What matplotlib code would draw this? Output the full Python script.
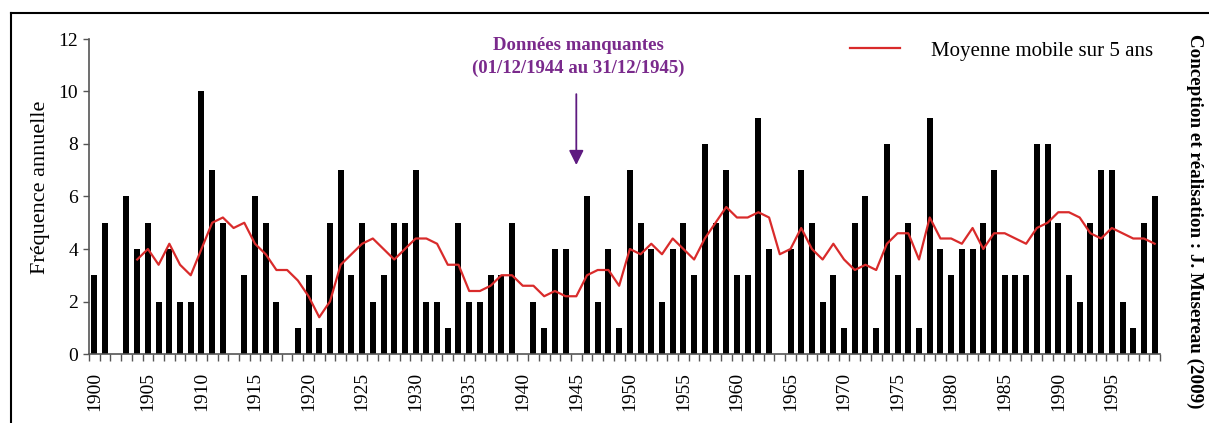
import matplotlib
matplotlib.use('Agg')
import matplotlib.pyplot as plt
import numpy as np
from matplotlib.lines import Line2D

plt.rcParams['font.family'] = ['Liberation Serif', 'DejaVu Serif']

# annual frequency, 1900-1999 (1945: missing data)
years = list(range(1900, 2000))
freq = [3, 5, 0, 6, 4, 5, 2, 4, 2, 2,
        10, 7, 5, 0, 3, 6, 5, 2, 0, 1,
        3, 1, 5, 7, 3, 5, 2, 3, 5, 5,
        7, 2, 2, 1, 5, 2, 2, 3, 3, 5,
        0, 2, 1, 4, 4, 0, 6, 2, 4, 1,
        7, 5, 4, 2, 4, 5, 3, 8, 5, 7,
        3, 3, 9, 4, 0, 4, 7, 5, 2, 3,
        1, 5, 6, 1, 8, 3, 5, 1, 9, 4,
        3, 4, 4, 5, 7, 3, 3, 3, 8, 8,
        5, 3, 2, 5, 7, 7, 2, 1, 5, 6]

# 5-year moving average, 1904-1999
ma_years = list(range(1904, 2000))
ma = [3.6, 4.0, 3.4, 4.2, 3.4, 3.0,
      4.0, 5.0, 5.2, 4.8, 5.0, 4.2, 3.8, 3.2, 3.2, 2.8,
      2.2, 1.4, 2.0, 3.4, 3.8, 4.2, 4.4, 4.0, 3.6, 4.0,
      4.4, 4.4, 4.2, 3.4, 3.4, 2.4, 2.4, 2.6, 3.0, 3.0,
      2.6, 2.6, 2.2, 2.4, 2.2, 2.2, 3.0, 3.2, 3.2, 2.6,
      4.0, 3.8, 4.2, 3.8, 4.4, 4.0, 3.6, 4.4, 5.0, 5.6,
      5.2, 5.2, 5.4, 5.2, 3.8, 4.0, 4.8, 4.0, 3.6, 4.2,
      3.6, 3.2, 3.4, 3.2, 4.2, 4.6, 4.6, 3.6, 5.2, 4.4,
      4.4, 4.2, 4.8, 4.0, 4.6, 4.6, 4.4, 4.2, 4.8, 5.0,
      5.4, 5.4, 5.2, 4.6, 4.4, 4.8, 4.6, 4.4, 4.4, 4.2]

tick_years = years[::5]

W, H = 1209, 423
fig = plt.figure(figsize=(W / 100, H / 100), dpi=100)
ax = fig.add_axes([89 / W, 1 - 354 / H, (1160 - 89) / W, (354 - 39) / H])

x = np.arange(len(years))
ax.bar(x, freq, width=0.56, color='black', zorder=2)

ma_x = [years.index(y) for y in ma_years]
ax.plot(ma_x, ma, color='#d92b2b', lw=1.6, zorder=3, label='Moyenne mobile sur 5 ans')

ax.set_xlim(-0.5, len(years) - 0.5)
ax.set_ylim(0, 12)
ax.set_yticks(range(0, 13, 2))
ax.tick_params(axis='y', direction='out', length=4, width=1, color='#555555',
               labelsize=14, pad=4)

# labels under categories, small ticks between categories
ax.set_xticks([years.index(y) for y in tick_years])
ax.set_xticklabels([str(y) for y in tick_years], rotation=90, fontsize=14)
ax.tick_params(axis='x', which='major', length=0, pad=13)
ax.set_xticks(np.arange(-0.5, len(years), 1), minor=True)
ax.tick_params(axis='x', which='minor', direction='out', length=5, width=1, color='#555555')

for s in ['top', 'right']:
    ax.spines[s].set_visible(False)
for s in ['left', 'bottom']:
    ax.spines[s].set_color('#555555')
    ax.spines[s].set_linewidth(1.2)

fig.text(41 / W, 1 - 187 / H, 'Fréquence annuelle', rotation=90,
         ha='center', va='center', fontsize=16)

ax.legend(loc='center left', bbox_to_anchor=(850 / W, 1 - 51 / H),
          bbox_transform=fig.transFigure, frameon=False, fontsize=15,
          handlelength=2.4, handletextpad=1.5, borderpad=0, borderaxespad=0)

# missing data annotation
purple = '#7a2a8c'
fig.text(578 / W, 1 - 45 / H, 'Données manquantes', ha='center', va='center',
         fontsize=13.5, fontweight='bold', color=purple)
fig.text(578 / W, 1 - 68 / H, '(01/12/1944 au 31/12/1945)', ha='center', va='center',
         fontsize=13.5, fontweight='bold', color=purple)
ax.annotate('', xy=(years.index(1945), 7.2), xytext=(years.index(1945), 9.9),
            arrowprops=dict(arrowstyle='-|>', color='#5e1a80', lw=1.3,
                            mutation_scale=22, shrinkA=0, shrinkB=0))

fig.text(1195 / W, 1 - 221 / H, 'Conception et réalisation : J. Musereau (2009)',
         rotation=-90, ha='center', va='center', fontsize=13.7, fontweight='bold')

# frame around the figure (top and left edges visible)
fig.add_artist(Line2D([11 / W, 1], [1 - 13 / H, 1 - 13 / H], color='black', lw=1.5))
fig.add_artist(Line2D([11 / W, 11 / W], [0, 1 - 13 / H], color='black', lw=1.5))

fig.savefig('out.png', dpi=100)
